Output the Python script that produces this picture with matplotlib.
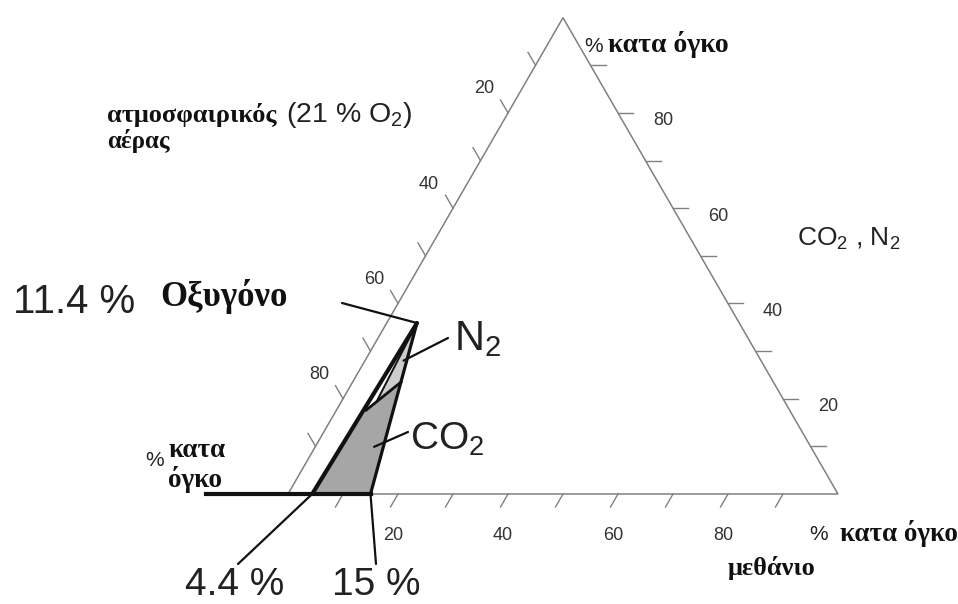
import numpy as np
import matplotlib
matplotlib.use("Agg")
import matplotlib.pyplot as plt
from matplotlib.patches import Polygon

W, H, DPI = 958, 604, 100

plt.rcParams['font.family'] = ['Liberation Sans', 'DejaVu Sans']
plt.rcParams['mathtext.default'] = 'regular'

# ---- axis ticks (percent by volume) ----
tick_values = [10, 20, 30, 40, 50, 60, 70, 80, 90]
tick_labels = [20, 40, 60, 80]

# ---- flammability envelope, points given as (methane %, inert %) ----
lower_limit = 4.4          # methane in air, lower limit
upper_limit = 15.0         # methane in air, upper limit
n2_nose = (5.5, 35.9)      # tip of the envelope when diluted with N2
co2_left = (5.4, 17.6)     # CO2 envelope, left end of its top edge
co2_nose = (8.8, 23.5)     # CO2 envelope, right end of its top edge
n2_inner = (6.4, 19.5)     # lower end of the inner edge of the N2 band
o2_at_nose = 11.4          # oxygen content quoted at the tip
base_lead = -15.0          # left end of the emphasised air line

SQ3 = np.sqrt(3) / 2


def tern(methane, inert):
    """(methane %, inert %) -> cartesian point; the rest is air."""
    m = np.asarray(methane, float) / 100
    i = np.asarray(inert, float) / 100
    return m + i / 2, i * SQ3


fig = plt.figure(figsize=(W / DPI, H / DPI), dpi=DPI)
ax = fig.add_axes([0, 0, 1, 1])
scale = 550.0
ax.set_xlim(-288 / scale, (W - 288) / scale)
ax.set_ylim((494 - H) / scale, 494 / scale)
ax.set_aspect('equal')
ax.axis('off')


def fpx(x, y):
    return x / W, 1 - y / H


GREY = '#808080'
# triangle frame
cx, cy = tern([0, 100, 0, 0], [0, 0, 100, 0])
ax.plot(cx, cy, color=GREY, lw=1.1, solid_joinstyle='miter', zorder=2)

tl = 15 / scale
off = 1 / scale
for v in tick_values:
    # bottom: methane
    bx, by = tern(v, 0)
    ax.plot([bx, bx - 0.5 * tl], [by, by - SQ3 * tl], color=GREY, lw=1.0)
    # left: air (0 at apex, 100 at lower left)
    lx, ly = tern(0, 100 - v)
    ax.plot([lx, lx - 0.5 * tl], [ly, ly + SQ3 * tl], color=GREY, lw=1.0)
    # right: CO2 / N2
    rx, ry = tern(100 - v, v)
    ax.plot([rx, rx + tl], [ry, ry], color=GREY, lw=1.0)
    if v in tick_labels:
        kw = dict(fontsize=13, color='#333333', ha='center', va='center')
        ax.text(bx - 5 * off, by - 41 * off, str(v), **kw)
        ax.text(lx - 24 * off, ly + 24 * off, str(v), **kw)
        ax.text(rx + 45 * off, ry - 8 * off, str(v), **kw)

# ---- envelope fills ----
co2_poly = np.column_stack(tern([lower_limit, co2_left[0], co2_nose[0], upper_limit],
                                [0, co2_left[1], co2_nose[1], 0]))
ax.add_patch(Polygon(co2_poly, closed=True, facecolor='#a6a6a6', edgecolor='none', zorder=3))
n2_poly = np.column_stack(tern([n2_inner[0], n2_nose[0], co2_nose[0]],
                               [n2_inner[1], n2_nose[1], co2_nose[1]]))
ax.add_patch(Polygon(n2_poly, closed=True, facecolor='#cdcdcd', edgecolor='none', zorder=3))

K = '#111111'
# outer edges of the envelope
ax.plot(*tern([lower_limit, n2_nose[0]], [0, n2_nose[1]]), color=K, lw=3.0,
        solid_capstyle='round', zorder=5)
ax.plot(*tern([n2_nose[0], upper_limit], [n2_nose[1], 0]), color=K, lw=2.3,
        solid_capstyle='round', zorder=5)
ax.plot(*tern([co2_left[0], co2_nose[0]], [co2_left[1], co2_nose[1]]), color=K, lw=2.0,
        zorder=5)
ax.plot(*tern([n2_inner[0], n2_nose[0]], [n2_inner[1], n2_nose[1]]), color=K, lw=1.4,
        zorder=5)
# air line (no inert) up to the upper limit
ax.plot(*tern([base_lead, upper_limit], [0, 0]), color=K, lw=3.0, zorder=5)

# ---- leader lines ----
def leader(pt, px, py):
    ax.annotate('', xy=pt, xycoords='data', xytext=fpx(px, py),
                textcoords='figure fraction',
                arrowprops=dict(arrowstyle='-', lw=1.6, color=K,
                                shrinkA=0, shrinkB=0), zorder=6)


def pt(m, i):
    return tuple(float(c) for c in tern(m, i))


leader(pt(*n2_nose), 342, 303)
leader(pt(7.0, 28.0), 448, 338)
leader(pt(10.7, 9.9), 408, 432)
leader(pt(lower_limit, 0), 238, 564)
leader(pt(upper_limit, 0), 376, 564)

# ---- text ----
SERIF = dict(family=['Liberation Serif', 'DejaVu Serif'], weight='bold', color='#111111')
SANS = dict(family=['Liberation Sans', 'DejaVu Sans'], color='#222222')


def txt(px, py, s, size, style, **kw):
    fig.text(*fpx(px, py), s, fontsize=size, ha=kw.pop('ha', 'left'),
             va=kw.pop('va', 'baseline'), **style, **kw)


txt(13, 313, f'{o2_at_nose} %', 29, SANS)
txt(160, 306, 'Οξυγόνο', 25, SERIF)
txt(454, 350, 'N$_2$', 30, SANS)
txt(410, 450, 'CO$_2$', 28, SANS)
txt(185, 595, f'{lower_limit} %', 28, SANS)
txt(332, 595, f'{upper_limit:.0f} %', 28, SANS)

txt(584, 52, '%', 15, SANS)
txt(608, 52, 'κατα όγκο', 20, SERIF)
txt(797, 246, 'CO$_2$ , N$_2$', 19, SANS)
txt(809, 540, '%', 15, SANS)
txt(840, 541, 'κατα όγκο', 19.5, SERIF)
txt(728, 575, 'μεθάνιο', 19, SERIF)
txt(107, 122, 'ατμοσφαιρικός', 19, SERIF)
txt(286, 122, '(21 % O$_2$)', 20.5, SANS)
txt(107, 148, 'αέρας', 18, SERIF)
txt(145, 466, '%', 15, SANS)
txt(169, 457, 'κατα', 19.5, SERIF)
txt(168, 487, 'όγκο', 19.5, SERIF)

fig.savefig('out.png', dpi=DPI, facecolor='white')
